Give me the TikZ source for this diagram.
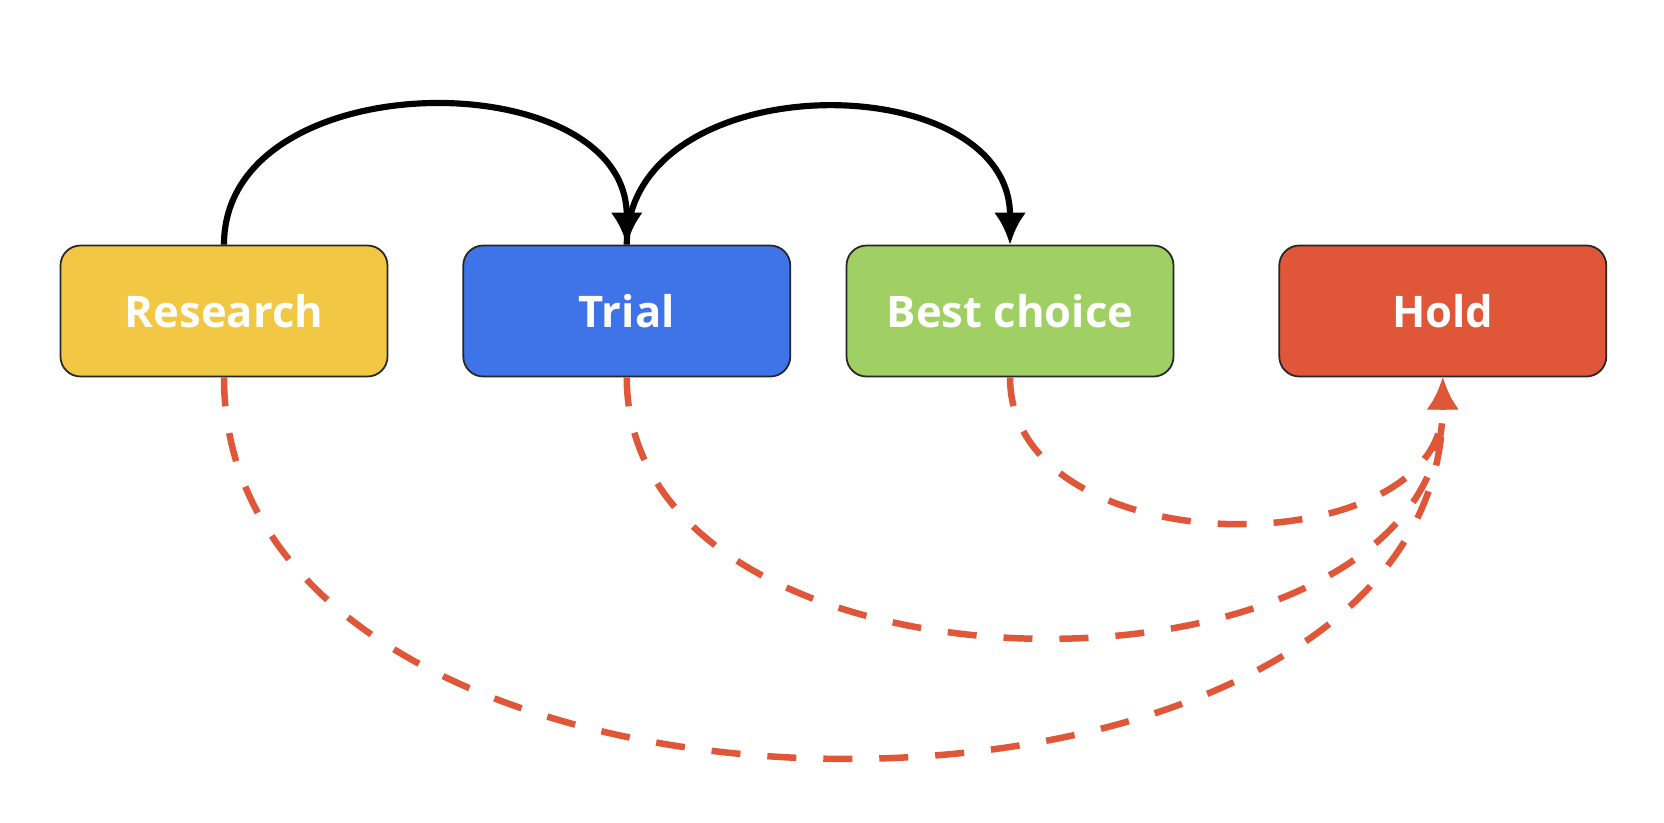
\documentclass[tikz,border=0pt]{standalone}
\usepackage{fontspec}
\setmainfont{Open Sans}
\usepackage{tikz}
\usetikzlibrary{arrows.meta,positioning}

\definecolor{researchyellow}{HTML}{F2C744}
\definecolor{trialblue}{HTML}{3F74E8}
\definecolor{bestgreen}{HTML}{A0CF63}
\definecolor{holdred}{HTML}{E05638}

\begin{document}
\begin{tikzpicture}[
    auto,
    >={Latex[length=0.32cm,width=0.32cm]},
    font=\fontsize{12.4}{14}\selectfont\bfseries,
    stage/.style={
		rectangle,
		rounded corners=0.2cm,
		draw=black!85,
		line width=0.5pt,
		text=white,
		text centered,
		minimum width=3.27cm,
		minimum height=1.31cm,
		inner sep=0pt
	},
	move/.style={
		draw=black,
		line width=1.75pt,
		->
	},
	hold/.style={
		draw=holdred,
		line width=1.85pt,
		dash pattern=on 0.29cm off 0.27cm,
		->
	}
  ]
  \useasboundingbox (0,0) rectangle (16.64,-8.22);

    % We start by placing the blocks
  \node [stage, fill=researchyellow] (research) at (2.24,-3.11) {Research};
  \node [stage, fill=trialblue, right=0.74cm of research] (trial) {Trial};
  \node [stage, fill=bestgreen, right=0.545cm of trial] (best) {Best choice};
  \node [stage, fill=holdred, right=1.04cm of best] (hold) {Hold};

 % solid moves on top
 \draw [move] (research.north) to[out=90, in=90, looseness=1.17] (trial.north);
 \draw [move] (trial.north) to[out=90, in=90, looseness=1.21] (best.north);

 % dashed moves to hold below
 \draw [hold] (research.south) to[out=-90, in=-90, looseness=1.06] (hold.south);
 \draw [hold] (trial.south) to[out=-90, in=-90, looseness=1.08] (hold.south);
 \draw [hold] (best.south) to[out=-90, in=-90, looseness=1.13] (hold.south);

\end{tikzpicture}
\end{document}
